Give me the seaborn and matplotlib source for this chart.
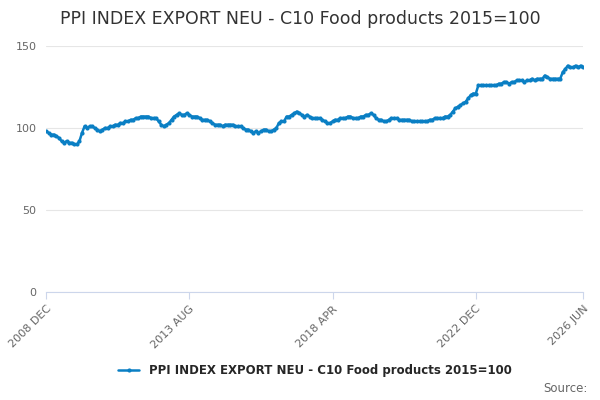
import numpy as np
import pandas as pd
import seaborn as sns
import matplotlib.pyplot as plt

# monthly values, 2008 DEC .. 2026 JUN
values = [
    98, 97, 96, 96, 95, 94, 92, 91, 92, 91, 91, 90,
    90, 92, 97, 101, 100, 101, 101, 100, 99, 98, 99, 100,
    100, 101, 101, 102, 102, 103, 103, 104, 104, 105, 105, 106,
    106, 107, 107, 107, 107, 106, 106, 106, 104, 102, 101, 102,
    103, 105, 107, 108, 109, 108, 108, 109, 108, 107, 107, 107,
    106, 105, 105, 105, 104, 103, 102, 102, 102, 101, 102, 102,
    102, 102, 101, 101, 101, 100, 99, 99, 98, 97, 98, 97,
    98, 99, 99, 98, 98, 99, 100, 103, 104, 104, 107, 107,
    108, 109, 110, 109, 108, 107, 108, 107, 106, 106, 106, 106,
    105, 104, 103, 103, 104, 105, 105, 106, 106, 106, 107, 107,
    106, 106, 106, 107, 107, 108, 108, 109, 108, 106, 105, 105,
    104, 104, 105, 106, 106, 106, 105, 105, 105, 105, 105, 104,
    104, 104, 104, 104, 104, 104, 105, 105, 106, 106, 106, 106,
    107, 107, 108, 110, 112, 113, 114, 115, 116, 118, 120, 121,
    121, 126, 126, 126, 126, 126, 126, 126, 126, 127, 127, 128,
    128, 127, 128, 128, 129, 129, 129, 128, 129, 129, 130, 129,
    130, 130, 130, 132, 131, 130, 130, 130, 130, 130, 134, 136,
    138, 137, 137, 138, 137, 138, 137,
]
tick_pos = [0, 56, 112, 168, 210]
tick_labels = ['2008 DEC', '2013 AUG', '2018 APR', '2022 DEC', '2026 JUN']
series_name = 'PPI INDEX EXPORT NEU - C10 Food products 2015=100'

df = pd.DataFrame({'month': np.arange(len(values)), 'value': values})

sns.set_style('white')
fig, ax = plt.subplots(figsize=(6, 4), dpi=100)
sns.lineplot(data=df, x='month', y='value', ax=ax, color='#0a7fc4',
             marker='o', markersize=3, markeredgewidth=0, linewidth=1.8,
             label=series_name)

ax.set_xlim(0, 210)
ax.set_ylim(0, 150)
ax.set_yticks([0, 50, 100, 150])
ax.set_xticks(tick_pos)
ax.set_xticklabels(tick_labels, rotation=45, ha='right', rotation_mode='anchor')
ax.tick_params(axis='both', labelsize=8, colors='#666666')
ax.tick_params(axis='x', length=5, color='#ccd6eb', bottom=True)
ax.yaxis.grid(True, color='#e6e6e6', linewidth=0.8)
for s in ['top', 'right', 'left']:
    ax.spines[s].set_visible(False)
ax.spines['bottom'].set_color('#ccd6eb')
ax.set_xlabel('')
ax.set_ylabel('')

fig.suptitle(series_name, fontsize=12.5, x=0.5, y=0.975, color='#333333')
ax.legend(loc='upper center', bbox_to_anchor=(0.5, -0.25), frameon=False,
          prop={'weight': 'bold', 'size': 8.5}, handlelength=1.8)
fig.text(0.98, 0.02, 'Source:', ha='right', fontsize=8.5, color='#666666')

fig.subplots_adjust(left=0.077, right=0.972, top=0.885, bottom=0.27)
fig.savefig('out.png')
